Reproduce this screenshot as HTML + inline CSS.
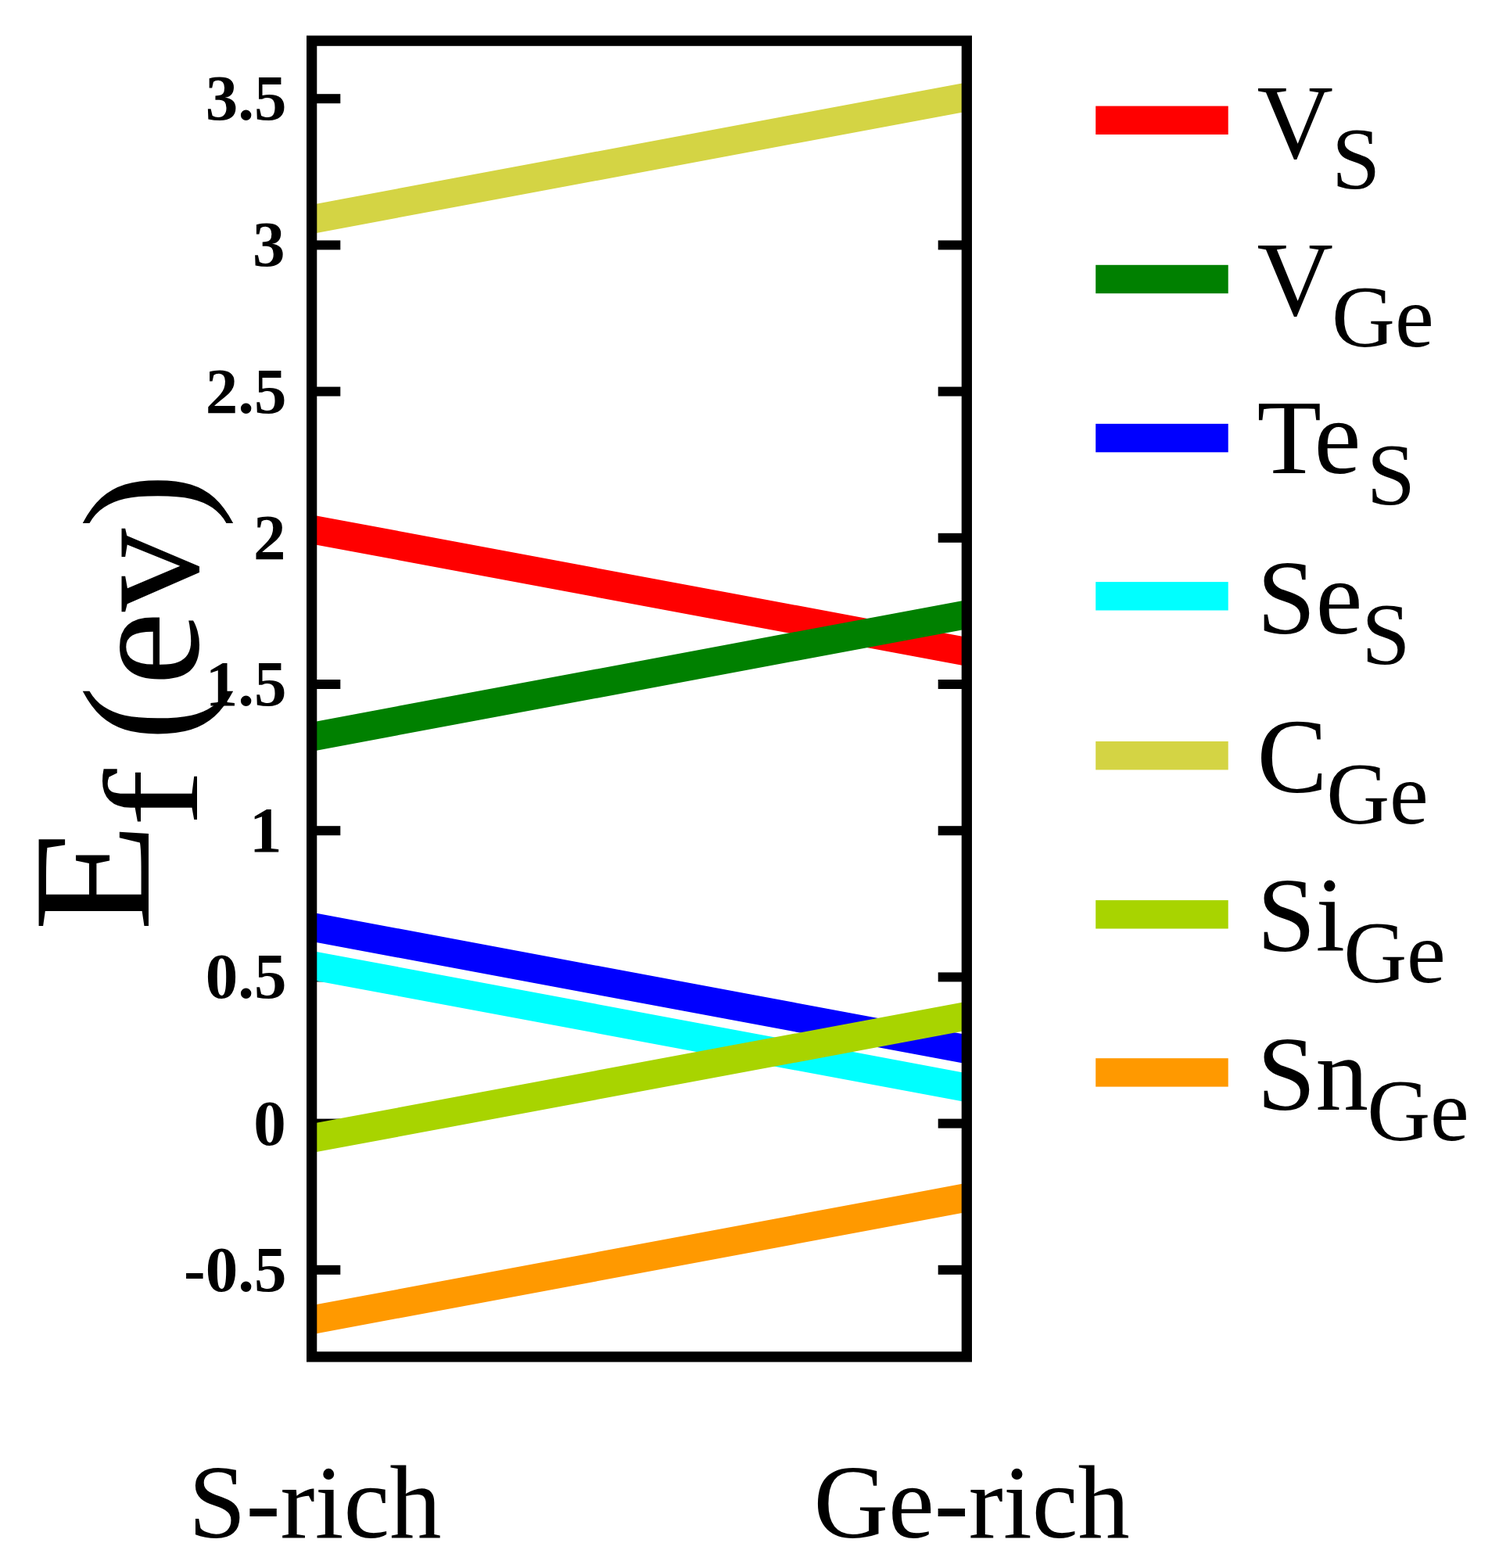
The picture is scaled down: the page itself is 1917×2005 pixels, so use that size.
<!DOCTYPE html>
<html lang="en">
<head>
<meta charset="utf-8">
<title>Formation energy</title>
<style>
html,body{margin:0;padding:0;background:#fff;}
body{width:1917px;height:2005px;overflow:hidden;}
svg{display:block;}
text{font-family:"Liberation Serif",serif;fill:#000;}
.tk{font-weight:bold;font-size:83px;text-anchor:end;}
.lg{font-size:135px;}
.sb{font-size:112px;}
.xl{font-size:132.4px;}
</style>
</head>
<body>
<svg width="1917" height="2005" viewBox="0 0 1917 2005">
<rect x="0" y="0" width="1917" height="2005" fill="#fff"/>
<g fill="#000">
<rect x="403.3" y="120.20" width="32.0" height="12.0"/><rect x="1199.7" y="120.20" width="32.0" height="12.0"/>
<rect x="403.3" y="307.40" width="32.0" height="12.0"/><rect x="1199.7" y="307.40" width="32.0" height="12.0"/>
<rect x="403.3" y="494.60" width="32.0" height="12.0"/><rect x="1199.7" y="494.60" width="32.0" height="12.0"/>
<rect x="403.3" y="681.80" width="32.0" height="12.0"/><rect x="1199.7" y="681.80" width="32.0" height="12.0"/>
<rect x="403.3" y="869.00" width="32.0" height="12.0"/><rect x="1199.7" y="869.00" width="32.0" height="12.0"/>
<rect x="403.3" y="1056.20" width="32.0" height="12.0"/><rect x="1199.7" y="1056.20" width="32.0" height="12.0"/>
<rect x="403.3" y="1243.40" width="32.0" height="12.0"/><rect x="1199.7" y="1243.40" width="32.0" height="12.0"/>
<rect x="403.3" y="1430.60" width="32.0" height="12.0"/><rect x="1199.7" y="1430.60" width="32.0" height="12.0"/>
<rect x="403.3" y="1617.80" width="32.0" height="12.0"/><rect x="1199.7" y="1617.80" width="32.0" height="12.0"/>
</g>
<g fill="none" stroke-width="36.6" stroke-linecap="butt">
<line x1="398.65" y1="676.91" x2="1236.35" y2="833.37" stroke="#ff0000"/>
<line x1="398.65" y1="942.14" x2="1236.35" y2="785.68" stroke="#008000"/>
<line x1="398.65" y1="1185.26" x2="1236.35" y2="1341.72" stroke="#0000ff"/>
<line x1="398.65" y1="1234.41" x2="1236.35" y2="1390.87" stroke="#00ffff"/>
<line x1="398.65" y1="280.39" x2="1236.35" y2="123.93" stroke="#d4d444"/>
<line x1="398.65" y1="1455.59" x2="1236.35" y2="1299.13" stroke="#a8d400"/>
<line x1="398.65" y1="1687.79" x2="1236.35" y2="1531.33" stroke="#ff9900"/>
</g>
<rect x="398.65" y="52.15" width="837.70" height="1682.80" fill="none" stroke="#000" stroke-width="13.3"/>
<text class="tk" x="366.4" y="153.2">3.5</text>
<text class="tk" x="364.6" y="340.4">3</text>
<text class="tk" x="366.4" y="527.6">2.5</text>
<text class="tk" x="365.4" y="714.8">2</text>
<text class="tk" x="366.4" y="902.0">1.5</text>
<text class="tk" x="360.4" y="1089.2">1</text>
<text class="tk" x="366.4" y="1276.4">0.5</text>
<text class="tk" x="365.7" y="1463.6">0</text>
<text class="tk" x="366.4" y="1650.8">-0.5</text>
<text transform="translate(189.9,1190.6) rotate(-90) scale(1.06,1)" font-size="213">E</text>
<text transform="translate(252.3,1057.2) rotate(-90) scale(1.3,1)" font-size="171">f</text>
<text transform="translate(252.5,947.7) rotate(-90)" font-size="213">(ev)</text>
<text class="xl" x="240.9" y="1965.5">S-rich</text>
<text class="xl" x="1040.4" y="1965.5">Ge-rich</text>
<rect x="1401.2" y="135.6" width="169.5" height="36.4" fill="#ff0000"/>
<text class="lg" x="1607.4" y="201.7">V<tspan class="sb" dx="-1.8" dy="39.5">S</tspan></text>
<rect x="1401.2" y="338.8" width="169.5" height="36.4" fill="#008000"/>
<text class="lg" x="1607.4" y="403.4">V<tspan class="sb" dx="-1.8" dy="39.5">Ge</tspan></text>
<rect x="1401.2" y="541.9" width="169.5" height="36.4" fill="#0000ff"/>
<text class="lg" x="1607.4" y="605.3">Te<tspan class="sb" dx="7.3" dy="39.5">S</tspan></text>
<rect x="1401.2" y="744.1" width="169.5" height="36.4" fill="#00ffff"/>
<text class="lg" x="1607.4" y="809.9">Se<tspan class="sb" dx="-1.2" dy="39.5">S</tspan></text>
<rect x="1401.2" y="948.0" width="169.5" height="36.4" fill="#d4d444"/>
<text class="lg" x="1607.4" y="1013.0">C<tspan class="sb" dx="-1.2" dy="39.5">Ge</tspan></text>
<rect x="1401.2" y="1151.1" width="169.5" height="36.4" fill="#a8d400"/>
<text class="lg" x="1607.4" y="1216.1">Si<tspan class="sb" dx="-1.8" dy="39.5">Ge</tspan></text>
<rect x="1401.2" y="1353.2" width="169.5" height="36.4" fill="#ff9900"/>
<text class="lg" x="1607.4" y="1418.8">Sn<tspan class="sb" dx="-1.8" dy="39.5">Ge</tspan></text>
</svg>
</body>
</html>
